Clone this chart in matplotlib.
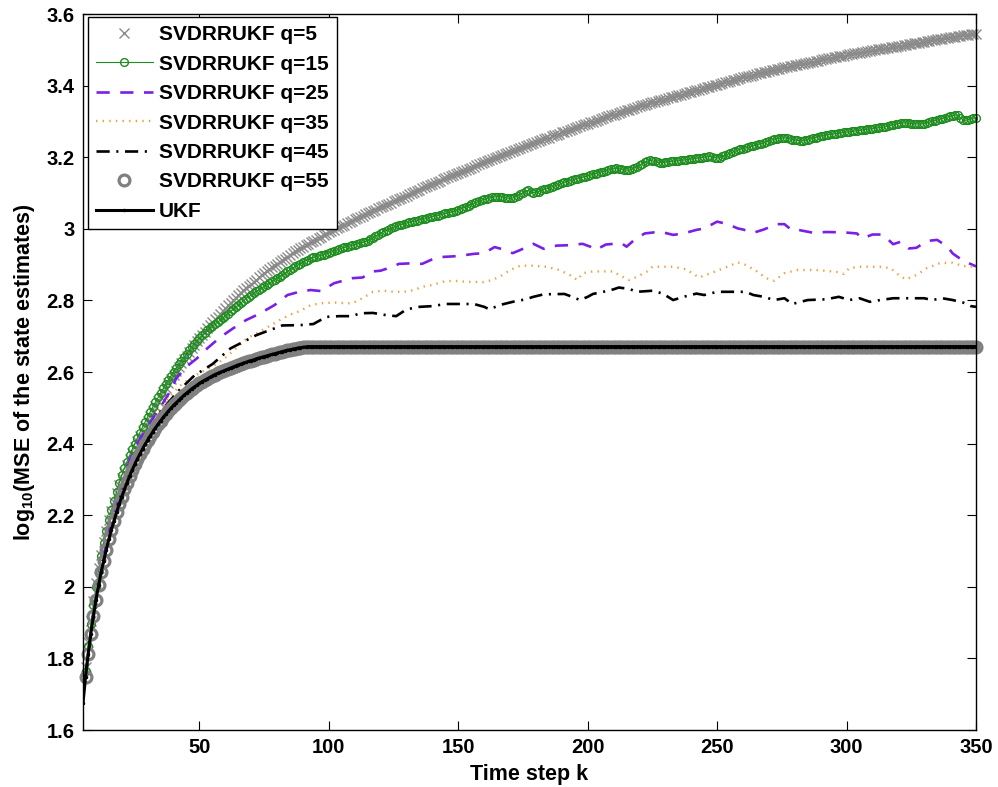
import matplotlib
matplotlib.use("Agg")
import matplotlib.pyplot as plt
from matplotlib.ticker import FuncFormatter

plt.rcParams['font.family'] = ['Liberation Sans', 'DejaVu Sans']
plt.rcParams['font.weight'] = 'bold'
plt.rcParams['mathtext.fontset'] = 'custom'
plt.rcParams['mathtext.rm'] = 'Liberation Sans:bold'
plt.rcParams['mathtext.bf'] = 'Liberation Sans:bold'

# ---------------- data ----------------
ukf_steps = list(range(5, 351))
steps = list(range(6, 351))

ukf = [
    1.675, 1.749, 1.812, 1.868, 1.918, 1.963,
    2.004, 2.040, 2.073, 2.104, 2.133, 2.160, 2.185, 2.209, 2.231, 2.252,
    2.272, 2.291, 2.309, 2.326, 2.342, 2.357, 2.371, 2.385, 2.398, 2.410,
    2.422, 2.433, 2.444, 2.454, 2.464, 2.473, 2.482, 2.491, 2.499, 2.507,
    2.514, 2.521, 2.528, 2.535, 2.541, 2.547, 2.553, 2.558, 2.563, 2.568,
    2.573, 2.577, 2.581, 2.585, 2.589, 2.593, 2.596, 2.599, 2.602, 2.605,
    2.608, 2.611, 2.614, 2.617, 2.620, 2.622, 2.625, 2.627, 2.630, 2.632,
    2.634, 2.637, 2.639, 2.641, 2.643, 2.645, 2.647, 2.649, 2.651, 2.653,
    2.655, 2.657, 2.659, 2.661, 2.662, 2.664, 2.665, 2.667, 2.668, 2.669,
    2.670, 2.671, 2.671, 2.671, 2.671, 2.671, 2.671, 2.671, 2.671, 2.671,
    2.671, 2.671, 2.671, 2.671, 2.671, 2.671, 2.671, 2.671, 2.671, 2.671,
    2.671, 2.671, 2.671, 2.671, 2.671, 2.671, 2.671, 2.671, 2.671, 2.671,
    2.671, 2.671, 2.671, 2.671, 2.671, 2.671, 2.671, 2.671, 2.671, 2.671,
    2.671, 2.671, 2.671, 2.671, 2.671, 2.671, 2.671, 2.671, 2.671, 2.671,
    2.671, 2.671, 2.671, 2.671, 2.671, 2.671, 2.671, 2.671, 2.671, 2.671,
    2.671, 2.671, 2.671, 2.671, 2.671, 2.671, 2.671, 2.671, 2.671, 2.671,
    2.671, 2.671, 2.671, 2.671, 2.671, 2.671, 2.671, 2.671, 2.671, 2.671,
    2.671, 2.671, 2.671, 2.671, 2.671, 2.671, 2.671, 2.671, 2.671, 2.671,
    2.671, 2.671, 2.671, 2.671, 2.671, 2.671, 2.671, 2.671, 2.671, 2.671,
    2.671, 2.671, 2.671, 2.671, 2.671, 2.671, 2.671, 2.671, 2.671, 2.671,
    2.671, 2.671, 2.671, 2.671, 2.671, 2.671, 2.671, 2.671, 2.671, 2.671,
    2.671, 2.671, 2.671, 2.671, 2.671, 2.671, 2.671, 2.671, 2.671, 2.671,
    2.671, 2.671, 2.671, 2.671, 2.671, 2.671, 2.671, 2.671, 2.671, 2.671,
    2.671, 2.671, 2.671, 2.671, 2.671, 2.671, 2.671, 2.671, 2.671, 2.671,
    2.671, 2.671, 2.671, 2.671, 2.671, 2.671, 2.671, 2.671, 2.671, 2.671,
    2.671, 2.671, 2.671, 2.671, 2.671, 2.671, 2.671, 2.671, 2.671, 2.671,
    2.671, 2.671, 2.671, 2.671, 2.671, 2.671, 2.671, 2.671, 2.671, 2.671,
    2.671, 2.671, 2.671, 2.671, 2.671, 2.671, 2.671, 2.671, 2.671, 2.671,
    2.671, 2.671, 2.671, 2.671, 2.671, 2.671, 2.671, 2.671, 2.671, 2.671,
    2.671, 2.671, 2.671, 2.671, 2.671, 2.671, 2.671, 2.671, 2.671, 2.671,
    2.671, 2.671, 2.671, 2.671, 2.671, 2.671, 2.671, 2.671, 2.671, 2.671,
    2.671, 2.671, 2.671, 2.671, 2.671, 2.671, 2.671, 2.671, 2.671, 2.671,
    2.671, 2.671, 2.671, 2.671, 2.671, 2.671, 2.671, 2.671, 2.671, 2.671,
    2.671, 2.671, 2.671, 2.671, 2.671, 2.671, 2.671, 2.671, 2.671, 2.671,
    2.671, 2.671, 2.671, 2.671, 2.671, 2.671, 2.671, 2.671, 2.671, 2.671,
]

q55 = [
    1.749, 1.812, 1.868, 1.918, 1.963,
    2.004, 2.040, 2.073, 2.104, 2.133, 2.160, 2.185, 2.209, 2.231, 2.252,
    2.272, 2.291, 2.309, 2.326, 2.342, 2.357, 2.371, 2.385, 2.398, 2.410,
    2.422, 2.433, 2.444, 2.454, 2.464, 2.473, 2.482, 2.491, 2.499, 2.507,
    2.514, 2.521, 2.528, 2.535, 2.541, 2.547, 2.553, 2.558, 2.563, 2.568,
    2.573, 2.577, 2.581, 2.585, 2.589, 2.593, 2.596, 2.599, 2.602, 2.605,
    2.608, 2.611, 2.614, 2.617, 2.620, 2.622, 2.625, 2.627, 2.630, 2.632,
    2.634, 2.637, 2.639, 2.641, 2.643, 2.645, 2.647, 2.649, 2.651, 2.653,
    2.655, 2.657, 2.659, 2.661, 2.662, 2.664, 2.665, 2.667, 2.668, 2.669,
    2.670, 2.671, 2.671, 2.671, 2.671, 2.671, 2.671, 2.671, 2.671, 2.671,
    2.671, 2.671, 2.671, 2.671, 2.671, 2.671, 2.671, 2.671, 2.671, 2.671,
    2.671, 2.671, 2.671, 2.671, 2.671, 2.671, 2.671, 2.671, 2.671, 2.671,
    2.671, 2.671, 2.671, 2.671, 2.671, 2.671, 2.671, 2.671, 2.671, 2.671,
    2.671, 2.671, 2.671, 2.671, 2.671, 2.671, 2.671, 2.671, 2.671, 2.671,
    2.671, 2.671, 2.671, 2.671, 2.671, 2.671, 2.671, 2.671, 2.671, 2.671,
    2.671, 2.671, 2.671, 2.671, 2.671, 2.671, 2.671, 2.671, 2.671, 2.671,
    2.671, 2.671, 2.671, 2.671, 2.671, 2.671, 2.671, 2.671, 2.671, 2.671,
    2.671, 2.671, 2.671, 2.671, 2.671, 2.671, 2.671, 2.671, 2.671, 2.671,
    2.671, 2.671, 2.671, 2.671, 2.671, 2.671, 2.671, 2.671, 2.671, 2.671,
    2.671, 2.671, 2.671, 2.671, 2.671, 2.671, 2.671, 2.671, 2.671, 2.671,
    2.671, 2.671, 2.671, 2.671, 2.671, 2.671, 2.671, 2.671, 2.671, 2.671,
    2.671, 2.671, 2.671, 2.671, 2.671, 2.671, 2.671, 2.671, 2.671, 2.671,
    2.671, 2.671, 2.671, 2.671, 2.671, 2.671, 2.671, 2.671, 2.671, 2.671,
    2.671, 2.671, 2.671, 2.671, 2.671, 2.671, 2.671, 2.671, 2.671, 2.671,
    2.671, 2.671, 2.671, 2.671, 2.671, 2.671, 2.671, 2.671, 2.671, 2.671,
    2.671, 2.671, 2.671, 2.671, 2.671, 2.671, 2.671, 2.671, 2.671, 2.671,
    2.671, 2.671, 2.671, 2.671, 2.671, 2.671, 2.671, 2.671, 2.671, 2.671,
    2.671, 2.671, 2.671, 2.671, 2.671, 2.671, 2.671, 2.671, 2.671, 2.671,
    2.671, 2.671, 2.671, 2.671, 2.671, 2.671, 2.671, 2.671, 2.671, 2.671,
    2.671, 2.671, 2.671, 2.671, 2.671, 2.671, 2.671, 2.671, 2.671, 2.671,
    2.671, 2.671, 2.671, 2.671, 2.671, 2.671, 2.671, 2.671, 2.671, 2.671,
    2.671, 2.671, 2.671, 2.671, 2.671, 2.671, 2.671, 2.671, 2.671, 2.671,
    2.671, 2.671, 2.671, 2.671, 2.671, 2.671, 2.671, 2.671, 2.671, 2.671,
    2.671, 2.671, 2.671, 2.671, 2.671, 2.671, 2.671, 2.671, 2.671, 2.671,
    2.671, 2.671, 2.671, 2.671, 2.671, 2.671, 2.671, 2.671, 2.671, 2.671,
]

q5 = [
    1.775, 1.845, 1.905, 1.960, 2.010,
    2.052, 2.090, 2.125, 2.157, 2.186, 2.213, 2.238, 2.261, 2.283, 2.303,
    2.322, 2.340, 2.357, 2.374, 2.390, 2.406, 2.421, 2.436, 2.450, 2.464,
    2.478, 2.492, 2.505, 2.518, 2.531, 2.544, 2.556, 2.568, 2.580, 2.592,
    2.603, 2.614, 2.625, 2.636, 2.646, 2.656, 2.666, 2.676, 2.686, 2.695,
    2.704, 2.713, 2.722, 2.731, 2.739, 2.747, 2.755, 2.763, 2.771, 2.779,
    2.786, 2.793, 2.800, 2.807, 2.814, 2.821, 2.828, 2.834, 2.840, 2.846,
    2.852, 2.858, 2.864, 2.870, 2.876, 2.881, 2.887, 2.892, 2.897, 2.902,
    2.907, 2.912, 2.917, 2.922, 2.927, 2.932, 2.937, 2.941, 2.946, 2.950,
    2.954, 2.958, 2.962, 2.966, 2.970, 2.974, 2.978, 2.982, 2.986, 2.990,
    2.994, 2.997, 3.001, 3.005, 3.008, 3.012, 3.015, 3.019, 3.022, 3.026,
    3.029, 3.033, 3.036, 3.040, 3.043, 3.047, 3.050, 3.053, 3.057, 3.060,
    3.063, 3.067, 3.070, 3.073, 3.077, 3.080, 3.083, 3.087, 3.090, 3.093,
    3.096, 3.100, 3.103, 3.106, 3.109, 3.113, 3.116, 3.119, 3.122, 3.125,
    3.128, 3.131, 3.134, 3.138, 3.141, 3.144, 3.147, 3.150, 3.153, 3.156,
    3.159, 3.162, 3.165, 3.168, 3.171, 3.174, 3.177, 3.180, 3.183, 3.186,
    3.189, 3.192, 3.194, 3.197, 3.200, 3.203, 3.206, 3.209, 3.212, 3.215,
    3.217, 3.220, 3.223, 3.226, 3.228, 3.231, 3.234, 3.237, 3.239, 3.242,
    3.245, 3.247, 3.250, 3.253, 3.255, 3.258, 3.261, 3.263, 3.266, 3.269,
    3.271, 3.274, 3.276, 3.279, 3.281, 3.284, 3.287, 3.289, 3.292, 3.294,
    3.297, 3.299, 3.302, 3.304, 3.307, 3.309, 3.312, 3.314, 3.317, 3.319,
    3.321, 3.324, 3.326, 3.329, 3.331, 3.333, 3.336, 3.338, 3.341, 3.343,
    3.345, 3.347, 3.349, 3.351, 3.353, 3.355, 3.357, 3.359, 3.361, 3.363,
    3.365, 3.367, 3.369, 3.371, 3.373, 3.375, 3.377, 3.379, 3.381, 3.383,
    3.385, 3.387, 3.389, 3.391, 3.393, 3.395, 3.397, 3.399, 3.401, 3.403,
    3.405, 3.407, 3.409, 3.411, 3.413, 3.415, 3.417, 3.419, 3.421, 3.423,
    3.425, 3.427, 3.428, 3.430, 3.432, 3.434, 3.435, 3.437, 3.439, 3.441,
    3.443, 3.444, 3.446, 3.447, 3.449, 3.451, 3.452, 3.454, 3.455, 3.457,
    3.458, 3.460, 3.461, 3.463, 3.464, 3.466, 3.467, 3.469, 3.470, 3.472,
    3.473, 3.475, 3.476, 3.477, 3.479, 3.480, 3.482, 3.483, 3.484, 3.486,
    3.487, 3.488, 3.490, 3.491, 3.492, 3.493, 3.495, 3.496, 3.497, 3.499,
    3.500, 3.501, 3.502, 3.503, 3.505, 3.506, 3.507, 3.508, 3.509, 3.511,
    3.512, 3.513, 3.514, 3.515, 3.517, 3.518, 3.519, 3.520, 3.521, 3.523,
    3.524, 3.525, 3.526, 3.527, 3.529, 3.530, 3.531, 3.532, 3.533, 3.535,
    3.536, 3.537, 3.538, 3.539, 3.540, 3.541, 3.542, 3.543, 3.544, 3.545,
]

q15 = [
    1.765, 1.835, 1.895, 1.950, 2.000,
    2.045, 2.085, 2.122, 2.156, 2.187, 2.215, 2.241, 2.266, 2.290, 2.312,
    2.332, 2.350, 2.367, 2.384, 2.400, 2.416, 2.431, 2.446, 2.461, 2.475,
    2.489, 2.503, 2.516, 2.529, 2.542, 2.554, 2.566, 2.578, 2.589, 2.600,
    2.611, 2.621, 2.631, 2.641, 2.651, 2.661, 2.670, 2.679, 2.687, 2.695,
    2.702, 2.709, 2.716, 2.722, 2.728, 2.734, 2.739, 2.745, 2.751, 2.757,
    2.763, 2.769, 2.775, 2.781, 2.787, 2.793, 2.799, 2.805, 2.810, 2.815,
    2.820, 2.825, 2.830, 2.835, 2.839, 2.843, 2.848, 2.853, 2.857, 2.862,
    2.866, 2.871, 2.876, 2.881, 2.886, 2.890, 2.895, 2.899, 2.903, 2.907,
    2.911, 2.914, 2.918, 2.920, 2.922, 2.924, 2.926, 2.928, 2.930, 2.933,
    2.935, 2.938, 2.940, 2.943, 2.946, 2.948, 2.950, 2.952, 2.954, 2.956,
    2.958, 2.960, 2.962, 2.964, 2.967, 2.971, 2.975, 2.980, 2.984, 2.988,
    2.992, 2.995, 2.998, 3.001, 3.004, 3.007, 3.010, 3.012, 3.014, 3.016,
    3.018, 3.020, 3.021, 3.023, 3.025, 3.027, 3.028, 3.030, 3.032, 3.034,
    3.036, 3.037, 3.039, 3.041, 3.043, 3.045, 3.046, 3.048, 3.050, 3.053,
    3.056, 3.059, 3.062, 3.065, 3.068, 3.071, 3.074, 3.077, 3.080, 3.082,
    3.084, 3.086, 3.088, 3.089, 3.090, 3.090, 3.089, 3.087, 3.086, 3.085,
    3.086, 3.089, 3.093, 3.097, 3.101, 3.105, 3.107, 3.104, 3.101, 3.102,
    3.104, 3.107, 3.110, 3.112, 3.114, 3.117, 3.119, 3.122, 3.124, 3.127,
    3.130, 3.132, 3.134, 3.136, 3.138, 3.140, 3.142, 3.144, 3.146, 3.148,
    3.150, 3.152, 3.154, 3.156, 3.158, 3.160, 3.162, 3.164, 3.166, 3.168,
    3.169, 3.168, 3.166, 3.165, 3.164, 3.164, 3.166, 3.170, 3.174, 3.178,
    3.182, 3.186, 3.189, 3.191, 3.190, 3.188, 3.186, 3.185, 3.185, 3.186,
    3.187, 3.188, 3.189, 3.190, 3.190, 3.191, 3.192, 3.193, 3.194, 3.195,
    3.196, 3.197, 3.198, 3.199, 3.200, 3.201, 3.202, 3.201, 3.199, 3.198,
    3.199, 3.202, 3.205, 3.208, 3.211, 3.214, 3.217, 3.220, 3.222, 3.224,
    3.226, 3.228, 3.230, 3.232, 3.234, 3.236, 3.238, 3.240, 3.243, 3.246,
    3.248, 3.250, 3.252, 3.253, 3.254, 3.254, 3.253, 3.251, 3.249, 3.248,
    3.247, 3.246, 3.246, 3.247, 3.249, 3.251, 3.253, 3.255, 3.257, 3.259,
    3.260, 3.262, 3.263, 3.264, 3.265, 3.266, 3.267, 3.268, 3.269, 3.270,
    3.271, 3.272, 3.273, 3.274, 3.275, 3.276, 3.277, 3.278, 3.279, 3.280,
    3.281, 3.282, 3.283, 3.284, 3.285, 3.287, 3.289, 3.291, 3.293, 3.294,
    3.295, 3.296, 3.296, 3.295, 3.294, 3.293, 3.293, 3.293, 3.293, 3.294,
    3.296, 3.298, 3.300, 3.302, 3.304, 3.306, 3.308, 3.310, 3.312, 3.314,
    3.316, 3.318, 3.317, 3.310, 3.304, 3.303, 3.305, 3.307, 3.309, 3.310,
]

q25_steps = [6, 8, 10, 13, 16, 20, 23, 26, 30, 35, 39, 41, 45, 49, 53, 58, 63, 68,
             73, 79, 84, 89, 93, 97, 102, 104, 109, 113, 117, 120, 125, 127, 133,
             136, 140, 143, 148, 151, 156, 160, 164, 167, 171, 174, 179, 183, 188,
             192, 198, 201, 203, 207, 213, 215, 218, 222, 228, 233, 237, 242, 245,
             250, 254, 258, 260, 264, 268, 273, 276, 279, 282, 287, 292, 299, 304,
             306, 310, 314, 318, 321, 324, 327, 331, 335, 339, 341, 345, 350]
q25 = [1.752, 1.870, 1.970, 2.090, 2.180, 2.280, 2.354, 2.400, 2.448, 2.503,
       2.550, 2.582, 2.615, 2.638, 2.666, 2.697, 2.722, 2.745, 2.762, 2.787,
       2.815, 2.825, 2.829, 2.826, 2.848, 2.852, 2.862, 2.864, 2.881, 2.883,
       2.895, 2.902, 2.904, 2.902, 2.915, 2.921, 2.923, 2.925, 2.930, 2.932,
       2.949, 2.943, 2.932, 2.941, 2.958, 2.944, 2.953, 2.954, 2.958, 2.950,
       2.941, 2.956, 2.960, 2.950, 2.969, 2.987, 2.992, 2.983, 2.987, 2.997,
       3.001, 3.020, 3.013, 3.001, 2.998, 2.989, 2.998, 3.013, 3.013, 2.995,
       2.996, 2.989, 2.991, 2.990, 2.987, 2.973, 2.984, 2.984, 2.957, 2.964,
       2.945, 2.947, 2.966, 2.969, 2.950, 2.931, 2.911, 2.895]

q35_steps = [6, 8, 10, 13, 16, 20, 25, 30, 34, 38, 42, 46, 50, 55, 59, 64, 68, 75,
             81, 85, 89, 93, 97, 102, 107, 109, 113, 117, 121, 125, 129, 133, 136,
             140, 144, 148, 153, 160, 163, 166, 170, 174, 179, 184, 189, 193, 196,
             198, 202, 210, 212, 216, 219, 223, 225, 233, 238, 243, 249, 254, 258,
             261, 265, 269, 272, 276, 281, 288, 296, 299, 301, 305, 313, 317, 321,
             323, 327, 331, 336, 341, 345, 349]
q35 = [1.750, 1.865, 1.965, 2.080, 2.170, 2.270, 2.360, 2.430, 2.485, 2.526,
       2.559, 2.580, 2.597, 2.615, 2.634, 2.665, 2.692, 2.720, 2.745, 2.760,
       2.771, 2.787, 2.792, 2.794, 2.792, 2.792, 2.806, 2.824, 2.827, 2.824,
       2.824, 2.829, 2.838, 2.843, 2.852, 2.855, 2.852, 2.851, 2.857, 2.866,
       2.885, 2.897, 2.897, 2.894, 2.885, 2.871, 2.857, 2.876, 2.881, 2.881,
       2.871, 2.857, 2.866, 2.881, 2.894, 2.894, 2.887, 2.864, 2.880, 2.894,
       2.906, 2.899, 2.883, 2.862, 2.855, 2.876, 2.885, 2.885, 2.880, 2.874,
       2.890, 2.894, 2.894, 2.890, 2.866, 2.859, 2.871, 2.890, 2.904, 2.905,
       2.896, 2.894]

q45_steps = [6, 8, 10, 13, 16, 20, 25, 30, 35, 42, 48, 55, 62, 72, 82, 89, 94, 99,
             104, 109, 112, 117, 122, 126, 130, 135, 140, 145, 156, 160, 162, 166,
             171, 176, 179, 183, 191, 194, 197, 200, 202, 206, 210, 212, 216, 219,
             225, 229, 233, 237, 242, 245, 250, 261, 264, 268, 272, 276, 279, 285,
             292, 297, 301, 305, 309, 313, 318, 330, 333, 337, 341, 345, 348, 350]
q45 = [1.750, 1.862, 1.960, 2.075, 2.165, 2.262, 2.350, 2.420, 2.490, 2.548,
       2.590, 2.622, 2.666, 2.703, 2.730, 2.731, 2.734, 2.754, 2.756, 2.756,
       2.764, 2.765, 2.759, 2.756, 2.775, 2.782, 2.784, 2.790, 2.790, 2.782,
       2.775, 2.787, 2.796, 2.803, 2.810, 2.817, 2.818, 2.810, 2.801, 2.810,
       2.818, 2.824, 2.831, 2.836, 2.832, 2.824, 2.827, 2.819, 2.801, 2.810,
       2.819, 2.815, 2.824, 2.824, 2.815, 2.810, 2.801, 2.806, 2.790, 2.801,
       2.803, 2.810, 2.801, 2.806, 2.796, 2.801, 2.806, 2.806, 2.801, 2.806,
       2.801, 2.794, 2.784, 2.782]

labels = ['SVDRRUKF q=5', 'SVDRRUKF q=15', 'SVDRRUKF q=25', 'SVDRRUKF q=35',
          'SVDRRUKF q=45', 'SVDRRUKF q=55', 'UKF']
x_ticks = [50, 100, 150, 200, 250, 300, 350]
y_ticks = [1.6, 1.8, 2.0, 2.2, 2.4, 2.6, 2.8, 3.0, 3.2, 3.4, 3.6]

# ---------------- figure ----------------
fig = plt.figure(figsize=(9.98, 7.87), dpi=100)
ax = fig.add_axes([83 / 998, 57 / 787, 893 / 998, 716 / 787])

ax.plot(steps, q5, linestyle='none', marker='x', color='#8a8a8a',
        markersize=7, markeredgewidth=1.0, label=labels[0], clip_on=False)
ax.plot(steps, q15, linestyle='-', linewidth=0.8, marker='o', color='#1e8c1e',
        markersize=5.6, markeredgewidth=1.0, markerfacecolor='none',
        label=labels[1], clip_on=False)
ax.plot(q25_steps, q25, linestyle=(0, (5, 4)), linewidth=1.9, color='#7b1fe6',
        label=labels[2])
ax.plot(q35_steps, q35, linestyle=(0, (0.6, 2.2)), linewidth=1.7, color='#f0a040',
        label=labels[3])
ax.plot(q45_steps, q45, linestyle=(0, (5, 2.5, 0.8, 2.5)), linewidth=1.9, color='black',
        label=labels[4])
ax.plot(steps, q55, linestyle='none', marker='o', color='#808080',
        markersize=7.8, markeredgewidth=2.3, markerfacecolor='none',
        label=labels[5], clip_on=False)
ax.plot(ukf_steps, ukf, linestyle='-', linewidth=2.2, marker='.', markersize=3,
        color='black', label=labels[6])

ax.set_xlim(5, 350)
ax.set_ylim(1.6, 3.6)
ax.set_xticks(x_ticks)
ax.set_yticks(y_ticks)
ax.yaxis.set_major_formatter(FuncFormatter(lambda v, p: '%g' % round(v, 2)))
ax.tick_params(direction='in', length=6.5, width=0.8, top=True, right=True,
               labelsize=14.5, pad=6)
for lab in ax.get_xticklabels() + ax.get_yticklabels():
    lab.set_fontweight('bold')
for sp in ax.spines.values():
    sp.set_linewidth(1.0)
    sp.set_zorder(5)

ax.set_xlabel('Time step k', fontsize=15.5, fontweight='bold', labelpad=5)
ax.set_ylabel(r'log$_{\mathbf{10}}$(MSE of the state estimates)', fontsize=15.5,
              fontweight='bold', labelpad=7)

leg = ax.legend(loc='upper left', bbox_to_anchor=(5 / 893, 1 - 3 / 716),
                borderaxespad=0, numpoints=1, handlelength=2.7,
                handletextpad=0.3, labelspacing=0.5, borderpad=0.4,
                fancybox=False, framealpha=1, edgecolor='black',
                prop={'weight': 'bold', 'size': 15})
leg.get_frame().set_linewidth(1.0)
leg.set_zorder(10)

fig.savefig('out.png', dpi=100)
